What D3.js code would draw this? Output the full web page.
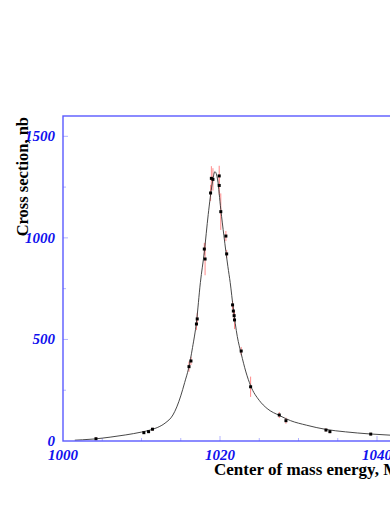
<!DOCTYPE html>
<html>
<head>
<meta charset="utf-8">
<script src="https://cdn.jsdelivr.net/npm/d3@7"></script>
<style>
  body { margin: 0; background: #fff; overflow: hidden; }
  svg { display: block; }
</style>
</head>
<body>
<svg id="chart" width="390" height="505"></svg>
<script>
// measured points (energy MeV, cross section nb, error nb)
var pointE = [1004.2, 1010.3, 1010.9, 1011.4, 1016.05, 1016.3, 1017.0, 1017.1, 1018.0, 1018.1,
              1018.8, 1018.9, 1019.1, 1019.9, 1019.9, 1020.1, 1020.75, 1020.85, 1021.6, 1021.7,
              1021.8, 1021.85, 1022.7, 1023.9, 1027.55, 1028.4, 1033.5, 1034.0, 1039.2];
var pointSigma = [11, 41, 46, 58, 366, 394, 576, 601, 945, 896,
                  1221, 1293, 1288, 1305, 1258, 1129, 1009, 921, 670, 640,
                  617, 596, 443, 267, 128, 100, 54, 46, 34];
var pointErr = [8, 6, 6, 7, 25, 20, 30, 30, 30, 80,
                40, 60, 55, 50, 45, 90, 25, 20, 20, 25,
                25, 45, 20, 50, 15, 15, 8, 8, 6];

// fitted curve
var curveE = [1001.5, 1002.5, 1004, 1006, 1008, 1010, 1011, 1012, 1013, 1014,
              1014.5, 1015, 1015.5, 1016, 1016.5, 1017, 1017.5, 1018, 1018.5, 1019,
              1019.35, 1019.7, 1020.1, 1020.5, 1021, 1021.3, 1021.7, 1022.2, 1022.7, 1023.3,
              1023.9, 1025, 1026, 1027.6, 1029, 1031, 1033.5, 1036, 1039, 1042,
              1046, 1050, 1055, 1060];
var curveSigma = [4, 6, 10, 19, 30, 44, 53, 66, 88, 128,
                  168, 222, 288, 358, 460, 585, 780, 930, 1115, 1265,
                  1326, 1285, 1140, 1010, 860, 780, 650, 515, 430, 340,
                  272, 200, 160, 125, 100, 78, 57, 45, 35, 28,
                  22, 18, 15, 12];

var xTicks = [1000, 1020, 1040, 1060];
var yTicks = [0, 500, 1000, 1500];

var svg = d3.select("#chart");
var plotLeft = 63, plotTop = 116, plotBottom = 441;
var axisColor = "#5a5aff";
var labelColor = "#1010ee";
var font = "'Liberation Serif', 'Times New Roman', serif";

var x = d3.scaleLinear().domain([1000, 1060]).range([plotLeft, plotLeft + 60 * 7.85]);
var y = d3.scaleLinear().domain([0, 1600]).range([plotBottom, plotTop]);

// clip for the plot area
svg.append("defs").append("clipPath").attr("id", "plotclip")
    .append("rect")
    .attr("x", x(1000)).attr("y", y(1600))
    .attr("width", x(1060) - x(1000)).attr("height", y(0) - y(1600));

var plot = svg.append("g").attr("clip-path", "url(#plotclip)");

// minor / major ticks, inside the frame
var xMinor = d3.range(1005, 1060, 5);
plot.selectAll(".xtick").data(xMinor).enter().append("line")
    .attr("x1", function (d) { return x(d); })
    .attr("x2", function (d) { return x(d); })
    .attr("y1", y(0))
    .attr("y2", function (d) { return d % 20 == 0 ? y(0) - 5 : y(0) - 3; })
    .attr("stroke", "#b4b4ff").attr("stroke-width", 1);

var yMinor = d3.range(250, 1600, 250);
plot.selectAll(".ytick").data(yMinor).enter().append("line")
    .attr("x1", x(1000))
    .attr("x2", function (d) { return d % 500 == 0 ? x(1000) + 5 : x(1000) + 3; })
    .attr("y1", function (d) { return y(d); })
    .attr("y2", function (d) { return y(d); })
    .attr("stroke", "#b4b4ff").attr("stroke-width", 1);

// error bars
var idx = d3.range(pointE.length);
plot.selectAll(".err").data(idx).enter().append("line")
    .attr("x1", function (i) { return x(pointE[i]); })
    .attr("x2", function (i) { return x(pointE[i]); })
    .attr("y1", function (i) { return y(pointSigma[i] - pointErr[i]); })
    .attr("y2", function (i) { return y(pointSigma[i] + pointErr[i]); })
    .attr("stroke", "#ff8a8a").attr("stroke-width", 1);

// fit curve
var line = d3.line()
    .x(function (i) { return x(curveE[i]); })
    .y(function (i) { return y(curveSigma[i]); })
    .curve(d3.curveMonotoneX);
plot.append("path")
    .attr("d", line(d3.range(curveE.length)))
    .attr("fill", "none")
    .attr("stroke", "#333")
    .attr("stroke-width", 0.9);

// points
plot.selectAll(".pt").data(idx).enter().append("rect")
    .attr("x", function (i) { return x(pointE[i]) - 1.5; })
    .attr("y", function (i) { return y(pointSigma[i]) - 1.5; })
    .attr("width", 3).attr("height", 3)
    .attr("fill", "#000");

// frame
svg.append("rect")
    .attr("x", x(1000)).attr("y", y(1600))
    .attr("width", x(1060) - x(1000)).attr("height", y(0) - y(1600))
    .attr("fill", "none").attr("stroke", axisColor).attr("stroke-width", 1.4);

// tick labels
svg.selectAll(".ylab").data(yTicks).enter().append("text")
    .attr("x", x(1000) - 8)
    .attr("y", function (d) { return y(d) + 5; })
    .attr("text-anchor", "end")
    .attr("font-family", font).attr("font-size", 15)
    .attr("font-weight", "bold").attr("font-style", "italic")
    .attr("fill", labelColor)
    .text(function (d) { return d; });

svg.selectAll(".xlab").data(xTicks).enter().append("text")
    .attr("x", function (d) { return x(d); })
    .attr("y", plotBottom + 19)
    .attr("text-anchor", "middle")
    .attr("font-family", font).attr("font-size", 15)
    .attr("font-weight", "bold").attr("font-style", "italic")
    .attr("fill", labelColor)
    .text(function (d) { return d; });

// axis titles
svg.append("text")
    .attr("x", 214).attr("y", plotBottom + 34)
    .attr("font-family", font).attr("font-size", 17)
    .attr("font-weight", "bold").attr("fill", "#000")
    .text("Center of mass energy, MeV");

svg.append("text")
    .attr("transform", "translate(28," + (plotTop + 1) + ") rotate(-90)")
    .attr("text-anchor", "end")
    .attr("font-family", font).attr("font-size", 16.5)
    .attr("font-weight", "bold").attr("fill", "#000")
    .text("Cross section, nb");
</script>
</body>
</html>
